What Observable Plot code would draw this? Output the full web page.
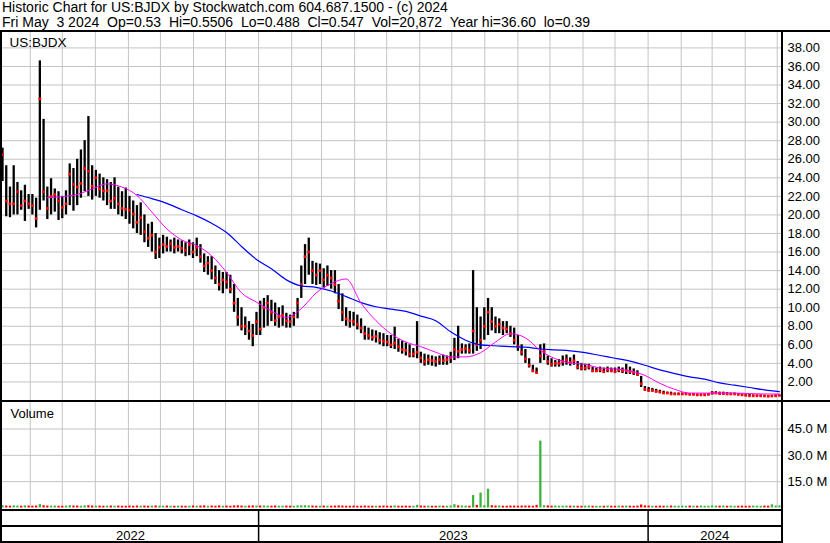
<!DOCTYPE html>
<html><head><meta charset="utf-8">
<script src="https://cdn.jsdelivr.net/npm/d3@7"></script>
<script src="https://cdn.jsdelivr.net/npm/@observablehq/plot@0.6"></script>
<style>
html,body{margin:0;padding:0;background:#fff;}
#wrap{position:relative;width:830px;height:543px;overflow:hidden;background:#fff;font-family:"Liberation Sans",Arial,sans-serif;color:#000;}
#hdr{position:absolute;left:2px;top:0px;font-size:14px;line-height:15px;white-space:pre;}
.pane{position:absolute;left:0;}
.pane svg{display:block;}
.ln{position:absolute;background:#000;}
</style></head>
<body><div id="wrap">
<div id="hdr"></div>
<div class="pane" id="price" style="top:32px"></div>
<div class="pane" id="vol" style="top:402px"></div>
<div class="pane" id="band" style="top:510px"></div>
<div class="ln" style="left:0;top:30px;width:830px;height:2px"></div>
<div class="ln" style="left:0;top:30px;width:2px;height:513px"></div>
<div class="ln" style="left:781px;top:30px;width:2px;height:513px"></div>
<div class="ln" style="left:0;top:400px;width:830px;height:2px"></div>
<div class="ln" style="left:0;top:509px;width:783px;height:2px"></div>
<div class="ln" style="left:0;top:525px;width:783px;height:2px"></div>
<div class="ln" style="left:0;top:541px;width:783px;height:2px"></div>
</div>
<script>
const titleLine1 = "Historic Chart for US:BJDX by Stockwatch.com 604.687.1500 - (c) 2024";
const titleLine2 = "Fri May  3 2024  Op=0.53  Hi=0.5506  Lo=0.488  Cl=0.547  Vol=20,872  Year hi=36.60  lo=0.39";
const symbolLabel = "US:BJDX";
const volumeLabel = "Volume";

// Sampled price bars (every 3.5 calendar days from 2022-05-06)
const hi = [27.2,25.3,23.0,25.3,23.5,22.6,23.2,22.2,22.2,21.8,
 36.6,30.3,23.0,23.9,22.8,22.5,22.0,22.6,25.5,25.0,
 26.0,27.0,28.0,30.6,25.3,24.8,24.4,24.0,23.8,23.5,
 24.0,23.0,22.5,22.9,22.0,21.5,21.0,21.3,20.0,19.0,
 19.2,18.0,17.5,17.8,17.6,17.3,17.5,17.3,17.2,17.0,
 17.3,17.0,17.5,16.8,15.8,15.5,15.5,14.5,14.0,13.8,
 13.8,13.5,12.5,11.0,10.0,9.0,8.5,8.2,9.5,10.7,
 11.0,11.3,10.8,10.5,10.0,10.2,9.4,9.2,9.5,11.0,
 14.5,16.8,17.5,15.0,14.8,14.7,14.2,14.5,14.0,14.0,
 12.5,11.5,10.0,9.6,9.5,9.2,8.8,8.0,7.8,7.6,
 7.5,7.3,7.2,7.0,7.0,7.9,6.6,6.4,6.2,6.0,
 5.6,8.5,5.2,5.0,4.9,4.8,4.7,4.8,4.9,4.8,
 5.2,6.7,8.0,6.1,6.0,6.1,14.0,10.0,9.0,10.0,
 11.0,10.0,9.0,8.8,8.5,8.5,8.0,7.8,7.0,6.0,
 5.5,4.5,3.8,3.5,6.0,6.1,4.8,4.5,4.3,4.4,
 4.8,4.9,4.6,4.9,4.2,4.0,3.9,3.9,3.6,3.5,
 3.6,3.5,3.6,3.5,3.5,3.6,3.5,3.9,3.6,3.4,
 3.2,2.6,1.5,1.4,1.3,1.2,1.1,1.0,0.9,0.9,
 0.8,0.8,0.8,0.8,0.75,0.75,0.7,0.7,0.7,0.75,
 0.95,0.95,0.9,0.9,0.85,0.8,0.8,0.75,0.7,0.65,
 0.65,0.6,0.6,0.6,0.58,0.55,0.55,0.6,0.55];
const lo = [23.6,19.8,19.7,20.0,20.0,20.5,19.3,20.6,20.0,18.6,
 20.5,21.5,19.5,20.0,20.3,19.4,19.6,20.0,21.0,20.4,
 21.0,21.8,22.5,22.0,21.6,22.0,21.8,21.5,21.0,20.6,
 20.6,20.0,19.8,19.5,19.0,18.5,18.0,17.8,17.0,16.5,
 16.0,15.2,15.3,15.8,16.0,16.0,15.8,16.0,15.8,15.5,
 15.6,15.3,15.5,14.8,13.8,13.5,13.0,12.5,11.8,11.5,
 12.0,11.5,9.5,8.0,7.5,7.0,6.5,5.8,7.0,7.0,
 7.8,8.0,8.5,8.0,7.8,8.0,7.8,7.8,8.0,8.8,
 11.0,12.5,13.5,12.5,12.4,12.5,12.1,12.3,12.0,11.5,
 9.8,8.5,8.0,7.8,8.0,7.6,7.2,6.5,6.5,6.4,
 6.2,6.0,5.8,5.8,5.6,5.5,5.2,5.0,4.8,4.6,
 4.6,4.5,4.0,3.7,3.8,3.7,3.6,3.8,3.8,3.8,
 4.0,4.3,4.5,5.0,5.0,5.0,5.0,5.3,5.5,6.5,
 7.0,7.5,7.2,7.2,7.0,7.2,6.8,6.0,5.3,4.8,
 4.0,3.5,3.0,2.9,4.0,4.3,3.8,3.6,3.6,3.6,
 3.7,3.8,3.7,3.8,3.3,3.2,3.2,3.3,3.0,3.0,
 3.0,2.9,3.0,3.0,2.9,3.0,2.9,2.8,2.8,2.7,
 2.6,1.4,1.0,0.9,0.9,0.8,0.8,0.7,0.7,0.6,
 0.6,0.6,0.6,0.6,0.6,0.55,0.55,0.55,0.55,0.55,
 0.6,0.65,0.6,0.6,0.6,0.6,0.6,0.55,0.5,0.45,
 0.45,0.45,0.42,0.42,0.4,0.39,0.4,0.45,0.49];
const cl = [26.5,21.5,21.2,21.2,22.5,21.0,21.5,21.2,21.0,19.6,
 32.5,22.5,20.7,22.0,22.2,21.5,20.8,21.2,24.4,23.3,
 23.0,23.4,25.0,24.7,23.1,24.0,22.8,22.6,22.6,21.5,
 21.8,21.2,20.7,20.6,20.5,20.1,19.2,19.7,18.2,17.5,
 17.8,16.0,16.5,16.8,16.6,16.9,16.5,16.6,16.4,16.2,
 16.8,16.0,16.5,15.5,14.5,14.8,14.0,13.2,12.5,13.0,
 12.8,12.0,10.5,9.0,8.0,8.0,7.5,7.0,8.5,7.7,
 10.0,10.5,9.5,8.6,9.0,9.2,8.6,8.5,9.0,10.5,
 12.5,15.5,16.0,14.0,13.5,14.0,13.0,13.5,13.2,12.5,
 10.7,9.5,8.8,8.6,8.5,8.2,7.8,7.2,7.0,6.8,
 6.9,6.5,6.4,6.3,6.0,6.2,5.8,5.5,5.4,5.0,
 5.0,5.2,4.6,4.2,4.4,4.3,4.2,4.4,4.3,4.4,
 4.6,5.5,5.3,5.5,5.6,5.4,7.5,6.0,6.5,8.0,
 9.5,8.5,8.0,8.2,7.8,7.7,7.2,6.5,5.8,5.2,
 4.5,3.8,3.2,3.0,4.8,5.3,4.2,3.9,4.0,4.0,
 4.2,4.4,4.1,4.3,3.6,3.5,3.5,3.6,3.2,3.2,
 3.3,3.1,3.3,3.2,3.1,3.3,3.2,3.2,3.1,3.0,
 2.8,1.8,1.2,1.1,1.1,1.0,0.9,0.8,0.8,0.7,
 0.7,0.7,0.7,0.7,0.65,0.65,0.6,0.6,0.6,0.65,
 0.8,0.8,0.75,0.75,0.7,0.7,0.7,0.65,0.6,0.55,
 0.5,0.5,0.5,0.5,0.48,0.45,0.48,0.5,0.547];
// volume in millions
const vol = [1.3,1.1,1.0,1.2,1.1,1.0,1.2,1.1,1.0,1.1,
 1.9,1.3,1.1,1.0,1.1,1.0,1.0,1.1,1.3,1.1,
 1.1,1.0,1.2,1.3,1.1,1.0,1.1,1.0,1.0,1.1,
 1.0,1.1,1.0,1.0,1.1,1.0,1.1,1.0,1.1,1.0,
 1.1,1.2,1.0,1.0,1.1,1.0,1.0,1.1,1.0,1.0,
 1.0,1.1,1.0,1.1,1.2,1.0,1.1,1.0,1.2,1.0,
 1.1,1.0,1.2,1.3,1.1,1.0,1.1,1.2,1.1,1.1,
 1.2,1.1,1.0,1.1,1.0,1.0,1.1,1.0,1.0,1.2,
 1.3,1.3,1.2,1.1,1.0,1.0,1.1,1.0,1.0,1.1,
 1.2,1.1,1.0,1.0,1.1,1.0,1.0,1.1,1.0,1.0,
 1.0,1.0,1.1,1.0,1.0,1.2,1.0,1.0,1.1,1.0,
 1.0,1.5,1.1,1.0,1.1,1.0,1.0,1.1,1.0,1.0,
 1.1,1.9,1.2,1.1,1.1,1.0,7.1,1.5,8.5,1.3,
 10.7,1.3,1.1,1.1,1.0,1.0,1.1,1.1,1.0,1.1,
 1.1,1.1,1.0,1.5,38.1,1.3,1.2,1.0,1.1,1.0,
 1.0,1.1,1.0,1.1,1.0,1.0,1.0,1.1,1.0,1.0,
 1.0,1.0,1.1,1.0,1.0,1.1,1.0,1.1,1.0,1.0,
 1.1,1.7,1.2,1.1,1.0,1.0,1.1,1.0,1.0,1.1,
 1.0,1.0,1.1,1.0,1.1,1.0,1.0,1.1,1.0,1.0,
 1.2,1.1,1.0,1.1,1.0,1.1,1.0,1.0,1.1,1.0,
 1.0,1.1,1.0,1.0,1.1,1.0,1.8,1.1,1.2];

const maFastStart = 12;   // first sampled bar index of magenta average
const maFast = [21.86,21.97,22.2,22.8,23.35,23.0,22.1,20.3,18.5,17.3,
 16.7,15.6,13.8,11.6,10.6,9.65,8.95,9.9,11.6,12.6,
 13.1,10.5,8.6,7.2,6.3,5.8,5.2,4.7,4.7,5.15,
 6.3,7.2,6.75,5.4,4.5,4.05,3.9,3.5,3.4,3.2,
 2.7,1.85,1.2,0.8,0.8,0.8,0.8,0.75,0.7,0.7];
const maSlowStart = 36;   // first sampled bar index of blue average
const maSlow = [22.2,21.75,21.25,20.55,19.9,19.1,18.1,16.6,15.2,14.2,
 13.0,12.35,12.2,11.8,11.2,10.55,10.1,9.85,9.6,9.1,
 8.6,7.4,6.5,6.0,5.9,5.8,5.75,5.55,5.45,5.35,
 5.15,4.85,4.55,4.25,3.8,3.3,2.9,2.55,2.3,1.9,
 1.65,1.4,1.15,0.95];

const priceTicks = [2,4,6,8,10,12,14,16,18,20,22,24,26,28,30,32,34,36,38];
const volTicks = [15e6,30e6,45e6];
const years = [2022,2023,2024];

// ---------- build ----------
document.getElementById("hdr").textContent = titleLine1 + "\n" + titleLine2;

const DAY = 864e5;
const start = new Date(Date.UTC(2022,4,6));
const end = new Date(Date.UTC(2024,4,5));
const stepDays = 3.5;
const dateAt = i => new Date(+start + i*stepDays*DAY);
const bars = hi.map((h,i)=>({date:dateAt(i), hi:h, lo:lo[i], cl:cl[i], vol:vol[i]*1e6,
  up: i===0 || cl[i] >= cl[i-1]}));
const fast = maFast.map((v,k)=>({date:dateAt(maFastStart+4*k), v}));
const slow = maSlow.map((v,k)=>({date:dateAt(maSlowStart+4*k), v}));
const months = d3.utcMonth.range(d3.utcMonth.ceil(start), end);
const yearStarts = years.map(y=>new Date(Date.UTC(y,0,1))).filter(d=>d>start && d<end);

const font = '"Liberation Sans", Arial, sans-serif';
const common = {width:830, marginLeft:2, marginRight:49,
  style:{fontFamily:font, fontSize:"13px", background:"transparent", overflow:"visible", color:"#000"}};
const xOpt = {type:"utc", domain:[start,end], axis:null};
const grid = "#c4c4c4";

const pricePlot = Plot.plot({
  ...common, height:368, marginTop:0, marginBottom:0,
  x: xOpt,
  y: {domain:[0,39.66], axis:"right", ticks:priceTicks, tickFormat:d=>d.toFixed(2), tickSize:0, tickPadding:6, label:null},
  marks: [
    Plot.ruleY(priceTicks, {stroke:grid, strokeWidth:1}),
    Plot.ruleX(months, {stroke:grid, strokeWidth:1}),
    Plot.ruleX(bars, {x:"date", y1:"lo", y2:"hi", stroke:"#000", strokeWidth:2.3}),
    Plot.dot(bars, {x:"date", y:"cl", symbol:"square", r:1.5, fill:"#ff0000", stroke:null}),
    Plot.line(slow, {x:"date", y:"v", stroke:"#0000ff", strokeWidth:1.2, curve:"monotone-x"}),
    Plot.line(fast, {x:"date", y:"v", stroke:"#ff00ff", strokeWidth:1, curve:"monotone-x"}),
    Plot.text([symbolLabel], {frameAnchor:"top-left", dx:7, dy:5, lineAnchor:"top", textAnchor:"start", fill:"#000", fontSize:13.5})
  ]
});
document.getElementById("price").appendChild(pricePlot);

const volPlot = Plot.plot({
  ...common, height:107, marginTop:0, marginBottom:1.5,
  x: xOpt,
  y: {domain:[0,60.1e6], axis:"right", ticks:volTicks, tickFormat:d=>(d/1e6).toFixed(1)+" M", tickSize:0, tickPadding:6, label:null},
  marks: [
    Plot.ruleY(volTicks, {stroke:grid, strokeWidth:1}),
    Plot.ruleX(months, {stroke:grid, strokeWidth:1}),
    Plot.ruleX(bars, {x:"date", y1:0, y2:"vol", stroke:d=>d.up?"#3cb43c":"#ff0000", strokeWidth:2.3}),
    Plot.text([volumeLabel], {frameAnchor:"top-left", dx:8, dy:6, lineAnchor:"top", textAnchor:"start", fill:"#000", fontSize:13})
  ]
});
document.getElementById("vol").appendChild(volPlot);

const mid = y => {
  const a = Math.max(+start, Date.UTC(y,0,1)), b = Math.min(+end, Date.UTC(y+1,0,1));
  return new Date((a+b)/2);
};
const bandPlot = Plot.plot({
  ...common, height:33, marginTop:0, marginBottom:0,
  x: xOpt,
  y: {domain:[0,33], axis:null},
  marks: [
    Plot.ruleX(yearStarts, {stroke:"#000", strokeWidth:1.5}),
    Plot.text(years, {x:mid, y:8, text:d=>String(d), textAnchor:"middle", lineAnchor:"middle", fill:"#000", fontSize:13})
  ]
});
document.getElementById("band").appendChild(bandPlot);
</script></body></html>
